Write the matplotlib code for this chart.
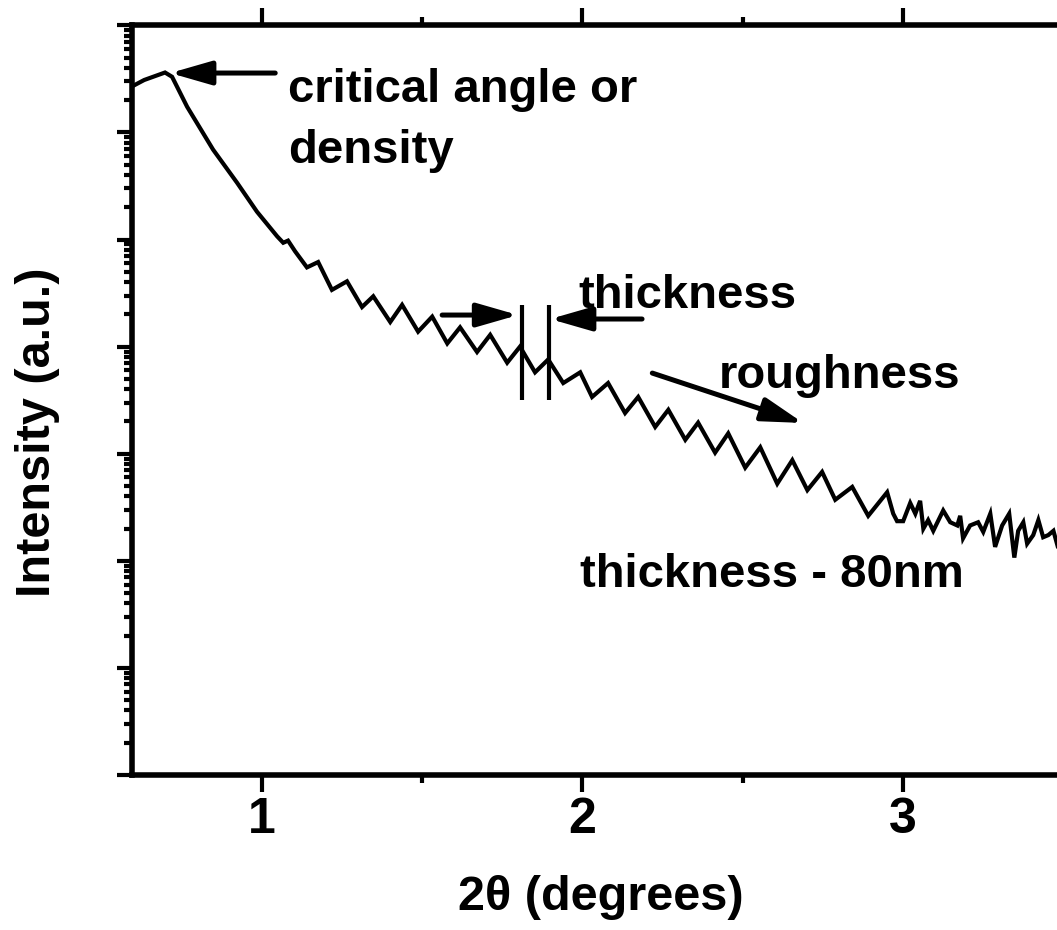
import numpy as np
import matplotlib.pyplot as plt
from matplotlib.ticker import LogLocator, NullFormatter, MultipleLocator

plt.rcParams['font.family'] = ['Liberation Sans', 'DejaVu Sans']
plt.rcParams['font.weight'] = 'bold'

# XRR scan: 2theta (deg) and log10 of reflected intensity (arb. counts)
two_theta = [0.594, 0.632, 0.697, 0.719, 0.766, 0.847, 0.922, 0.984, 1.047, 1.066,
             1.081, 1.103, 1.140, 1.175, 1.218, 1.265, 1.312, 1.347, 1.400, 1.437,
             1.487, 1.531, 1.578, 1.618, 1.671, 1.712, 1.765, 1.805, 1.852, 1.893,
             1.940, 1.993, 2.030, 2.080, 2.133, 2.174, 2.227, 2.268, 2.321, 2.361,
             2.414, 2.455, 2.508, 2.555, 2.608, 2.655, 2.702, 2.748, 2.789, 2.842,
             2.892, 2.951, 2.970, 2.982, 3.001, 3.023, 3.039, 3.054, 3.064, 3.079,
             3.095, 3.126, 3.148, 3.170, 3.179, 3.188, 3.210, 3.235, 3.251, 3.273,
             3.288, 3.310, 3.332, 3.348, 3.360, 3.376, 3.388, 3.407, 3.423, 3.438,
             3.454, 3.470, 3.482, 3.500]
log_counts = [6.43, 6.49, 6.56, 6.52, 6.24, 5.84, 5.53, 5.26, 5.03, 4.97,
              4.99, 4.89, 4.74, 4.79, 4.53, 4.61, 4.37, 4.47, 4.23, 4.39,
              4.14, 4.28, 4.03, 4.18, 3.95, 4.11, 3.85, 4.00, 3.76, 3.88,
              3.66, 3.76, 3.53, 3.66, 3.38, 3.53, 3.25, 3.41, 3.13, 3.29,
              3.01, 3.19, 2.87, 3.06, 2.72, 2.94, 2.66, 2.83, 2.57, 2.69,
              2.42, 2.64, 2.44, 2.37, 2.37, 2.54, 2.44, 2.56, 2.30, 2.38,
              2.28, 2.47, 2.36, 2.33, 2.42, 2.21, 2.33, 2.36, 2.27, 2.44,
              2.13, 2.33, 2.44, 2.03, 2.28, 2.36, 2.16, 2.24, 2.38, 2.22,
              2.24, 2.28, 2.15, 2.21]
intensity = 10 ** np.array(log_counts)

fig = plt.figure(figsize=(10.57, 9.3), dpi=100)
ax = fig.add_axes([0.1249, 0.1667, 0.8808, 0.806])

ax.plot(two_theta, intensity, color='black', lw=3.0, solid_joinstyle='miter')

ax.set_yscale('log')
ax.set_xlim(0.594, 3.5)
ax.set_ylim(1, 1e7)

for s in ax.spines.values():
    s.set_linewidth(4.0)

ax.xaxis.set_major_locator(MultipleLocator(1))
ax.xaxis.set_minor_locator(MultipleLocator(0.5))
ax.yaxis.set_major_locator(LogLocator(base=10, numticks=20))
ax.yaxis.set_minor_locator(LogLocator(base=10, subs=np.arange(2, 10), numticks=20))
ax.yaxis.set_major_formatter(NullFormatter())
ax.yaxis.set_minor_formatter(NullFormatter())

ax.tick_params(axis='x', which='major', direction='out', length=12, width=3,
               top=True, labeltop=False, labelsize=36, pad=4)
ax.tick_params(axis='x', which='minor', direction='out', length=6, width=3, top=True)
ax.tick_params(axis='y', which='major', direction='out', length=11, width=3, right=False)
ax.tick_params(axis='y', which='minor', direction='out', length=6, width=3, right=False)
for lab in ax.get_xticklabels():
    lab.set_fontweight('bold')

fig.text(0.0355, 0.535, 'Intensity (a.u.)', rotation=90, ha='center', va='center',
         fontsize=35, fontweight='bold')
fig.text(0.568, 0.022, '2θ (degrees)', ha='center', va='baseline',
         fontsize=35, fontweight='bold')

fs = 34
ax.text(1.081, 10 ** 6.284, 'critical angle or', fontsize=fs, fontweight='bold', va='baseline')
ax.text(1.081, 10 ** 5.714, 'density', fontsize=fs, fontweight='bold', va='baseline')
ax.text(1.987, 10 ** 4.36, 'thickness', fontsize=fs, fontweight='bold', va='baseline')
ax.text(2.424, 10 ** 3.613, 'roughness', fontsize=fs, fontweight='bold', va='baseline')
ax.text(1.993, 10 ** 1.755, 'thickness - 80nm', fontsize=fs, fontweight='bold', va='baseline')

arrow = dict(arrowstyle='-|>,head_length=2.5,head_width=0.72', mutation_scale=10,
             color='black', lw=3.6, shrinkA=0, shrinkB=0)
ax.annotate('', xy=(0.713, 10 ** 6.555), xytext=(1.041, 10 ** 6.555), arrowprops=arrow)
ax.annotate('', xy=(1.799, 10 ** 4.295), xytext=(1.562, 10 ** 4.295), arrowprops=arrow)
ax.annotate('', xy=(1.899, 10 ** 4.258), xytext=(2.186, 10 ** 4.258), arrowprops=arrow)
ax.annotate('', xy=(2.689, 10 ** 3.287), xytext=(2.218, 10 ** 3.753), arrowprops=arrow)

# fringe period markers
ax.vlines([1.812, 1.896], 10 ** 3.50, 10 ** 4.39, color='black', lw=3)

fig.savefig('out.png', dpi=100)
